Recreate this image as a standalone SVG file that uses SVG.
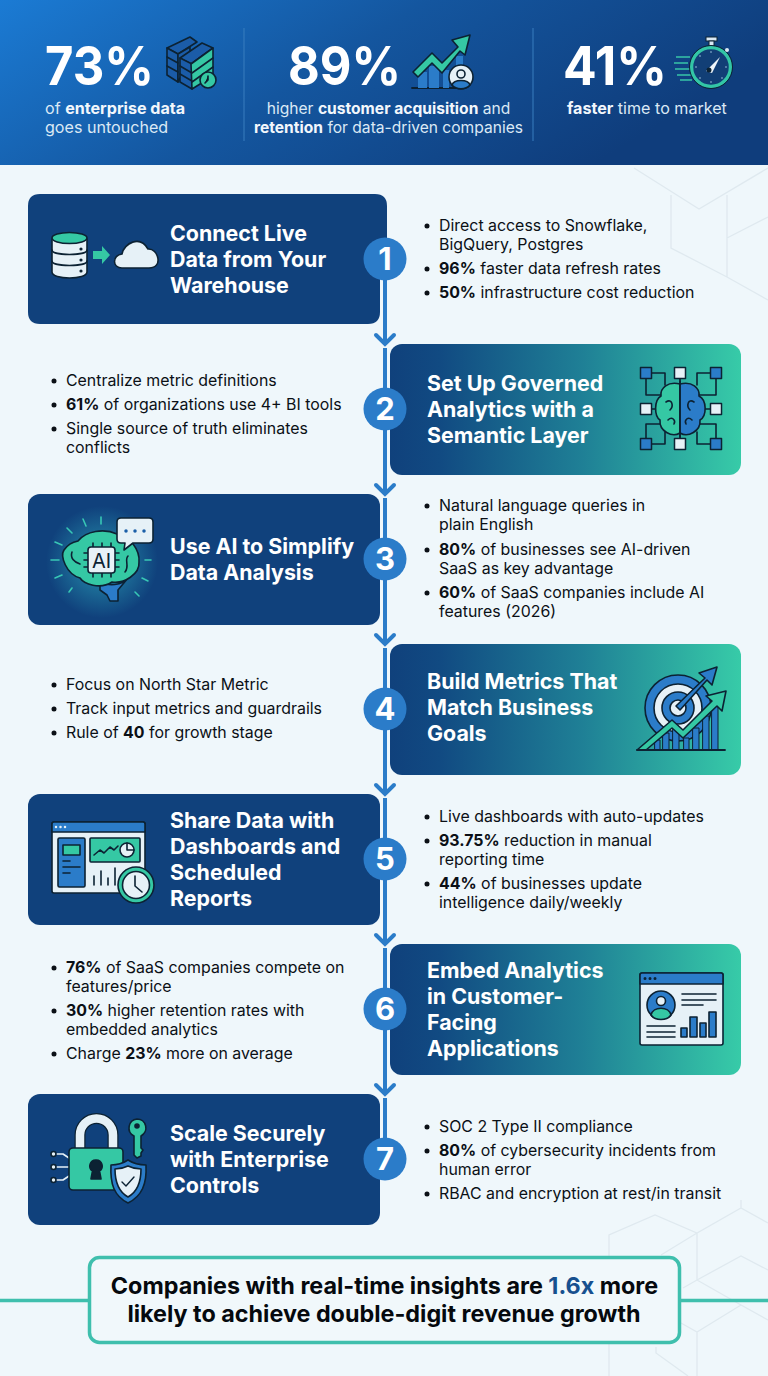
<svg xmlns="http://www.w3.org/2000/svg" width="768" height="1376" viewBox="0 0 768 1376">
<defs>
<linearGradient id="hdr" x1="0" y1="0" x2="1" y2="0.35"><stop offset="0" stop-color="#1b7bd4"/><stop offset="0.5" stop-color="#14569f"/><stop offset="1" stop-color="#0f3d7c"/></linearGradient>
<linearGradient id="tl" x1="0" y1="0" x2="1" y2="0"><stop offset="0" stop-color="#10417c"/><stop offset="0.14" stop-color="#114a82"/><stop offset="0.55" stop-color="#1f8096"/><stop offset="1" stop-color="#37cba8"/></linearGradient>
<radialGradient id="glow"><stop offset="0" stop-color="#35c8d0" stop-opacity="0.6"/><stop offset="0.6" stop-color="#35c8d0" stop-opacity="0.25"/><stop offset="1" stop-color="#35c8d0" stop-opacity="0"/></radialGradient>
<path id="chev" d="M-9 -10 L0 -1 L9 -10" fill="none" stroke="#2b7cc9" stroke-width="4" stroke-linecap="round"/>
</defs>
<style>
text{font-family:Inter,"Liberation Sans",sans-serif}
.t{font-weight:700;font-size:21.4px;fill:#fff}
.b{font-size:15.9px;fill:#0b1016}
.s{font-weight:700}
.h{font-weight:700;font-size:54px;fill:#fff}
.u{font-size:16.1px;fill:#dbe9f5}
.u2{font-size:15.6px;fill:#dbe9f5}
.u .s,.u2 .s{fill:#f2f7fc}
.n{font-weight:700;font-size:31px;fill:#fff;text-anchor:middle}
.f{font-weight:700;font-size:23.35px;fill:#05090e;text-anchor:middle}
.i{stroke:#0c2233;stroke-width:1.6;stroke-linejoin:round;stroke-linecap:round}
.g{fill:#35c8a4}.bl{fill:#2b7cc9}.w{fill:#e6f1f7}.nf{fill:none}.db{fill:#1b5ca8}
.hex{fill:none;stroke:#dfe9ef;stroke-width:1.3}
.dot{fill:none;stroke:#0b1016;stroke-width:5;stroke-linecap:round}
.badge{fill:#2b7cc9}
.card{fill:#10417c}
</style>
<rect width="768" height="1376" fill="#eff7fb"/>
<g id="bg-pattern" class="hex">
<path d="M634 168L699 209L768 168M671 195V248L727 277L768 300M727 195V277M727 238L768 217"/>
<path d="M609 1376V1235L655 1215L697 1233L741 1208L768 1223M741 1200V1208M697 1233V1280M661 1255L697 1233M683 1288L697 1280L741 1256L768 1270M697 1280L741 1305L768 1320M741 1305L697 1332L681 1323M697 1332V1376M656 1347V1353L688 1376"/>
</g>
<g id="header">
<rect width="768" height="165" fill="url(#hdr)"/>
<path d="M244 28V141M533 28V141" stroke="#3a7fc0" stroke-width="1.4" opacity="0.7"/>
<g id="stat1">
<text class="h" x="45" y="85" textLength="109" lengthAdjust="spacingAndGlyphs">73%</text>
<text class="u" x="45" y="114">of <tspan class="s">enterprise data</tspan></text>
<text class="u" x="45" y="133">goes untouched</text>
<g class="i">
<path class="db" d="M167 48L190 37L197 42L178 54Z"/><path class="db" d="M167 48V75L178 82V54Z"/><path class="db" d="M178 54L190 47V60L178 82Z"/>
<path d="M167 57L178 63M167 66L178 72"/>
<path class="db" d="M180 58L202 43L213 48L191 64Z"/><path class="db" d="M180 58V82L192 89V64Z"/><path class="g" d="M191 64L213 48V76L192 89Z"/>
<path d="M192 73L213 58M192 82L213 67M180 66L192 73M180 74L192 81"/>
<circle class="g" cx="208" cy="80" r="8"/><path d="M208 76V80L205 83"/>
</g>
</g>
<g id="stat2">
<text class="h" x="288" y="85" textLength="113" lengthAdjust="spacingAndGlyphs">89%</text>
<text class="u2" x="388.500" y="114" text-anchor="middle">higher <tspan class="s">customer acquisition</tspan> and</text>
<text class="u2" x="388.500" y="133" text-anchor="middle"><tspan class="s">retention</tspan> for data-driven companies</text>
<g class="i">
<path d="M412 88H465" stroke-width="1.8"/>
<path class="bl" d="M418 72H427V88H418ZM429 66H439V88H429ZM443 70H449V88H443ZM456 56H463V88H456Z" stroke="none"/>
<path class="g" d="M413 72L432 53L442 63L458 47L452 40L470 35L465 55L460 51L442 73L432 63L418 77Z"/>
<circle class="w" cx="461" cy="77" r="12"/><circle class="nf" cx="461" cy="74" r="4"/><path class="bl" d="M452 85C454 79 468 79 470 85C466 90 456 90 452 85Z"/>
</g>
</g>
<g id="stat3">
<text class="h" x="563" y="85" textLength="104" lengthAdjust="spacingAndGlyphs">41%</text>
<text class="u" x="567" y="114"><tspan class="s">faster</tspan> time to market</text>
<path d="M676 57H690M674 63H688M675 69H690M677 75H691M680 80H692" stroke="#37c5a8" stroke-width="1.6" fill="none"/>
<rect x="706" y="37" width="11" height="4" fill="#dbe9f5" stroke="#0c2233"/><rect x="709" y="41" width="5" height="5" fill="#dbe9f5" stroke="#0c2233"/>
<circle cx="711" cy="67" r="19.500" fill="#123f76" stroke="#33c6a6" stroke-width="3.500"/>
<circle cx="711" cy="67" r="21.500" fill="none" stroke="#0c2233" stroke-width="1"/>
<path d="M706 71L720 57L712 73Z" fill="#eef5fa"/><circle cx="709" cy="70" r="2.500" fill="#0c2233"/>
<circle cx="727" cy="50" r="2" fill="#dbe9f5"/>
<path d="M711 52v.01M711 82v.01M696 67v.01M726 67v.01M700 56v.01M722 78v.01M700 78v.01" stroke="#a8cbe4" stroke-width="1.6" stroke-linecap="round"/>
</g>
</g>
<g id="connectors" stroke="#2b7cc9" stroke-width="4" fill="none">
<path d="M385 270V344M385 348V494M385 498V644M385 648V794M385 798V944M385 948V1094M385 1098V1150"/>
<use href="#chev" x="385" y="345"/><use href="#chev" x="385" y="495"/><use href="#chev" x="385" y="645"/><use href="#chev" x="385" y="795"/><use href="#chev" x="385" y="945"/><use href="#chev" x="385" y="1095"/>
</g>
<g id="node1">
<path class="card" d="M40 194H375Q387 194 387 206V245H380V312Q380 324 368 324H40Q28 324 28 312V206Q28 194 40 194Z"/>
<g class="i">
<path class="w" d="M52 239V272C52 280 87 280 87 272V239Z"/><ellipse class="g" cx="69.500" cy="238" rx="17.500" ry="5.500"/>
<path class="nf" d="M52 250C52 256 87 256 87 250M52 261C52 267 87 267 87 261"/>
<circle cx="81" cy="249" r="0.800"/><circle cx="81" cy="260" r="0.800"/><circle cx="81" cy="271" r="0.800"/>
<path class="g" d="M93 251H102V246L110 255L102 264V259H93Z" stroke="none"/>
<path class="w" d="M122 268C112 268 112 255 122 254C124 243 140 235 148 249C158 248 164 268 149 268Z"/>
</g>
<text class="t"><tspan x="170" y="241">Connect Live</tspan><tspan x="170" y="267">Data from Your</tspan><tspan x="170" y="293">Warehouse</tspan></text>
<text class="b"><tspan x="439" y="231">Direct access to Snowflake,</tspan><tspan x="439" y="250">BigQuery, Postgres</tspan><tspan x="439" y="274" class="s">96%</tspan><tspan> faster data refresh rates</tspan><tspan x="439" y="298" class="s">50%</tspan><tspan> infrastructure cost reduction</tspan></text>
<path class="dot" d="M427 226h.01M427 269h.01M427 293h.01"/>
<circle class="badge" cx="385" cy="259" r="21.500"/><text class="n" x="385" y="270">1</text>
</g>
<g id="node2">
<rect x="390" y="344" width="351" height="131" rx="12" fill="url(#tl)"/>
<text class="t"><tspan x="427" y="391">Set Up Governed</tspan><tspan x="427" y="417">Analytics with a</tspan><tspan x="427" y="443">Semantic Layer</tspan></text>
<g class="i">
<path class="nf" d="M646 373V395H662M716 373V395H698M646 444V424H662M716 444V424H698M646 373H665V385M716 373H697V385M646 444H665V432M716 444H697V432M646 409H657M716 409H705M680 373V384M680 444V434"/>
<path class="g" d="M680 384C668 381 660 388 661 396C654 400 654 416 660 420C659 431 672 438 680 433Z"/>
<path class="bl" d="M680 384C692 381 700 388 699 396C707 400 707 416 700 420C701 431 688 438 680 433Z"/>
<path class="nf" d="M680 381V437M666 402C672 398 674 406 670 410M694 402C688 398 686 406 690 410M668 420C672 416 676 420 674 424M692 420C688 416 684 420 686 424"/>
<g stroke-width="1.500"><rect class="bl" x="640.500" y="367.500" width="11" height="11"/><rect class="bl" x="710.500" y="367.500" width="11" height="11"/><rect class="bl" x="640.500" y="438.500" width="11" height="11"/><rect class="bl" x="710.500" y="438.500" width="11" height="11"/><rect class="w" x="674.500" y="367.500" width="11" height="11"/><rect class="w" x="674.500" y="438.500" width="11" height="11"/><rect class="w" x="640.500" y="403.500" width="11" height="11"/><rect class="w" x="710.500" y="403.500" width="11" height="11"/></g>
</g>
<text class="b"><tspan x="66" y="386">Centralize metric definitions</tspan><tspan x="66" y="410" class="s">61%</tspan><tspan> of organizations use 4+ BI tools</tspan><tspan x="66" y="434">Single source of truth eliminates</tspan><tspan x="66" y="453">conflicts</tspan></text>
<path class="dot" d="M54 381h.01M54 405h.01M54 429h.01"/>
<circle class="badge" cx="385" cy="409" r="21.500"/><text class="n" x="385" y="420">2</text>
</g>
<g id="node3">
<rect class="card" x="28" y="494" width="352" height="131" rx="12"/>
<circle cx="102" cy="562" r="56" fill="url(#glow)"/>
<path d="M51 560H59M55 542L62 545M67 528L72 533M83 519L86 526M101 517V524M145 560H151M142 578L148 581M135 592L139 596M69 592L72 588M55 578L62 575" stroke="#38c7b5" stroke-width="1.600" stroke-linecap="round" fill="none"/>
<g class="i">
<path class="bl" d="M100 582C108 586 122 586 128 578L118 590V601H110L107 595L100 590Z"/>
<path class="g" d="M78 541C86 531 104 528 117 534C130 536 140 550 139 562C140 574 124 584 112 582C100 590 84 584 80 578C66 574 60 556 64 550C68 544 73 542 78 541Z"/>
<path class="nf" d="M93 543V547M102 543V547M111 543V547M93 573V577M102 573V577M111 573V577M84 553H88M84 560H88M84 567H88M115 553H119M115 560H119M115 567H119M72 552C70 558 74 562 80 564M128 556C124 560 130 566 125 572"/>
<rect x="88" y="547" width="27" height="26" rx="3" fill="#e8f1f7"/>
<path class="w" d="M121 518H149Q153 518 153 522V539Q153 543 149 543H133L124 550L125 543H121Q117 543 117 539V522Q117 518 121 518Z"/>
</g>
<path d="M126 531h.01M135 531h.01M144 531h.01" stroke="#1b5fa8" stroke-width="3.500" stroke-linecap="round" fill="none"/>
<text x="101.500" y="568" font-size="20" fill="#0c2233" text-anchor="middle">AI</text>
<text class="t"><tspan x="170" y="554">Use AI to Simplify</tspan><tspan x="170" y="580">Data Analysis</tspan></text>
<text class="b"><tspan x="439" y="511">Natural language queries in</tspan><tspan x="439" y="530">plain English</tspan><tspan x="439" y="555" class="s">80%</tspan><tspan> of businesses see AI-driven</tspan><tspan x="439" y="574">SaaS as key advantage</tspan><tspan x="439" y="598" class="s">60%</tspan><tspan> of SaaS companies include AI</tspan><tspan x="439" y="617">features (2026)</tspan></text>
<path class="dot" d="M427 506h.01M427 550h.01M427 593h.01"/>
<circle class="badge" cx="385" cy="559" r="21.500"/><text class="n" x="385" y="570">3</text>
</g>
<g id="node4">
<rect x="390" y="644" width="351" height="131" rx="12" fill="url(#tl)"/>
<text class="t"><tspan x="427" y="689">Build Metrics That</tspan><tspan x="427" y="715">Match Business</tspan><tspan x="427" y="741">Goals</tspan></text>
<g class="i">
<circle class="bl" cx="678" cy="708" r="33"/><circle class="w" cx="678" cy="708" r="24"/><circle class="bl" cx="678" cy="708" r="16"/><circle class="w" cx="678" cy="708" r="8"/>
<path class="bl" d="M676 706L705 678L699 673L717 667L712 685L707 680L680 710Z"/>
<path class="bl" stroke-width="1" d="M655 740H660V750H655ZM663 733H669V750H663ZM673 726H679V750H673ZM684 738H689V750H684ZM693 728H699V750H693ZM703 716H709V750H703ZM712 706H718V750H712Z"/>
<path class="g" d="M637 750L672 720L683 730L712 701L706 696L726 691L722 711L717 706L683 738L672 728L646 750Z"/>
<path d="M637 750H725" stroke-width="1.800"/>
</g>
<text class="b"><tspan x="66" y="690">Focus on North Star Metric</tspan><tspan x="66" y="714">Track input metrics and guardrails</tspan><tspan x="66" y="738">Rule of </tspan><tspan class="s">40</tspan><tspan> for growth stage</tspan></text>
<path class="dot" d="M54 685h.01M54 709h.01M54 733h.01"/>
<circle class="badge" cx="385" cy="709" r="21.500"/><text class="n" x="385" y="720">4</text>
</g>
<g id="node5">
<rect class="card" x="28" y="794" width="352" height="131" rx="12"/>
<g class="i">
<rect class="w" x="52" y="822" width="93" height="71" rx="2"/>
<path class="bl" d="M52 832V824Q52 822 54 822H143Q145 822 145 824V832Z"/>
<rect class="bl" x="58" y="838" width="27" height="49" rx="1.500"/><rect class="g" x="63" y="845" width="17" height="10"/>
<path class="nf" d="M63 861H70M63 867H80M63 873H70"/>
<rect class="g" x="90" y="838" width="50" height="24" rx="1"/>
<path class="nf" d="M94 855L100 850L104 853L110 847L114 850L118 846"/><circle class="w" cx="127" cy="850" r="7"/><path class="nf" d="M127 843V850H134"/>
<path class="nf" d="M94 876V885M101 871V885M108 878V885M115 868V885"/>
<circle class="g" cx="136" cy="885" r="18"/><circle class="w" cx="136" cy="885" r="13.500"/><path class="nf" d="M135 876V886L142 892"/>
</g>
<path d="M56 827h.01M60.500 827h.01M65 827h.01" stroke="#e6f1f7" stroke-width="2.500" stroke-linecap="round" fill="none"/>
<text class="t"><tspan x="170" y="828">Share Data with</tspan><tspan x="170" y="854">Dashboards and</tspan><tspan x="170" y="880">Scheduled</tspan><tspan x="170" y="906">Reports</tspan></text>
<text class="b"><tspan x="439" y="822">Live dashboards with auto-updates</tspan><tspan x="439" y="846" class="s">93.75%</tspan><tspan> reduction in manual</tspan><tspan x="439" y="865">reporting time</tspan><tspan x="439" y="889" class="s">44%</tspan><tspan> of businesses update</tspan><tspan x="439" y="908">intelligence daily/weekly</tspan></text>
<path class="dot" d="M427 817h.01M427 841h.01M427 884h.01"/>
<circle class="badge" cx="385" cy="859" r="21.500"/><text class="n" x="385" y="870">5</text>
</g>
<g id="node6">
<rect x="390" y="944" width="351" height="131" rx="12" fill="url(#tl)"/>
<text class="t"><tspan x="427" y="978">Embed Analytics</tspan><tspan x="427" y="1004">in Customer-</tspan><tspan x="427" y="1030">Facing</tspan><tspan x="427" y="1056">Applications</tspan></text>
<g class="i">
<rect class="w" x="640" y="973" width="83" height="72" rx="2"/>
<path class="bl" d="M640 984V975Q640 973 642 973H721Q723 973 723 975V984Z"/>
<circle class="bl" cx="661" cy="1005" r="14"/><circle class="w" cx="661" cy="1001" r="4.500"/><path class="g" d="M651 1015C653 1006 669 1006 671 1015C667 1021 655 1021 651 1015Z"/>
<path class="nf" d="M682 994H716M682 1000H716M682 1005H703M647 1026H675M647 1032H675M647 1037H675"/>
<path class="bl" d="M681 1028H687V1037H681ZM690 1017H697V1037H690ZM700 1023H706V1037H700ZM709 1012H716V1037H709Z"/>
</g>
<path d="M645 978.500h.01M650 978.500h.01M655 978.500h.01" stroke="#0c2233" stroke-width="3" stroke-linecap="round" fill="none"/>
<text class="b"><tspan x="66" y="973" class="s">76%</tspan><tspan> of SaaS companies compete on</tspan><tspan x="66" y="992">features/price</tspan><tspan x="66" y="1016" class="s">30%</tspan><tspan> higher retention rates with</tspan><tspan x="66" y="1035">embedded analytics</tspan><tspan x="66" y="1059">Charge </tspan><tspan class="s">23%</tspan><tspan> more on average</tspan></text>
<path class="dot" d="M54 968h.01M54 1011h.01M54 1054h.01"/>
<circle class="badge" cx="385" cy="1009" r="21.500"/><text class="n" x="385" y="1020">6</text>
</g>
<g id="node7">
<rect class="card" x="28" y="1094" width="352" height="131" rx="12"/>
<path d="M80 1150V1135A16.500 16.500 0 0 1 113 1135V1150" fill="none" stroke="#0c2233" stroke-width="11"/>
<path d="M80 1150V1135A16.500 16.500 0 0 1 113 1135V1150" fill="none" stroke="#e6f1f7" stroke-width="8.500"/>
<g class="i">
<path class="nf" d="M56 1154H63L69 1158M56 1167H69M56 1180H63L69 1176" style="stroke:#e6f1f7"/>
<circle class="w" cx="53.500" cy="1154" r="2.500"/><circle class="w" cx="53.500" cy="1167" r="2.500"/><circle class="w" cx="53.500" cy="1180" r="2.500"/>
<rect class="g" x="69" y="1148" width="54" height="42" rx="4"/>
<path fill="#0c2233" d="M96 1160A6 6 0 0 1 99.500 1171L101 1179H91L92.500 1171A6 6 0 0 1 96 1160Z"/>
<path class="g" d="M137 1119A9 9 0 0 1 141 1136V1148L143 1150L141 1153V1156L137 1158L134 1155V1136A9 9 0 0 1 137 1119Z"/>
<circle cx="137" cy="1126" r="2" fill="#0c2233"/>
<path class="bl" d="M128 1160C134 1164 140 1165 146 1165C147 1184 142 1196 128 1203C114 1196 110 1184 111 1165C117 1165 122 1164 128 1160Z"/>
<path class="w" d="M128 1166C132 1168 136 1169 141 1169C141 1182 137 1192 128 1197C119 1192 115 1182 115 1169C120 1169 124 1168 128 1166Z"/>
<path class="nf" d="M122 1182L126 1186L134 1177" stroke-width="1.400"/>
</g>
<text class="t"><tspan x="170" y="1141">Scale Securely</tspan><tspan x="170" y="1167">with Enterprise</tspan><tspan x="170" y="1193">Controls</tspan></text>
<text class="b"><tspan x="439" y="1132">SOC 2 Type II compliance</tspan><tspan x="439" y="1156" class="s">80%</tspan><tspan> of cybersecurity incidents from</tspan><tspan x="439" y="1175">human error</tspan><tspan x="439" y="1199">RBAC and encryption at rest/in transit</tspan></text>
<path class="dot" d="M427 1127h.01M427 1151h.01M427 1194h.01"/>
<circle class="badge" cx="385" cy="1159" r="21.500"/><text class="n" x="385" y="1170">7</text>
</g>
<g id="footer">
<path d="M0 1300.500H89M680 1300.500H768" stroke="#3fbfad" stroke-width="3.500" fill="none"/>
<rect x="89.500" y="1257.500" width="590" height="85" rx="10" fill="#f1f8fb" stroke="#3fbfad" stroke-width="3.500"/>
<text class="f" x="384.500" y="1294">Companies with real-time insights are <tspan fill="#17508f">1.6x</tspan> more</text>
<text class="f" x="384" y="1322">likely to achieve double-digit revenue growth</text>
</g>
</svg>
